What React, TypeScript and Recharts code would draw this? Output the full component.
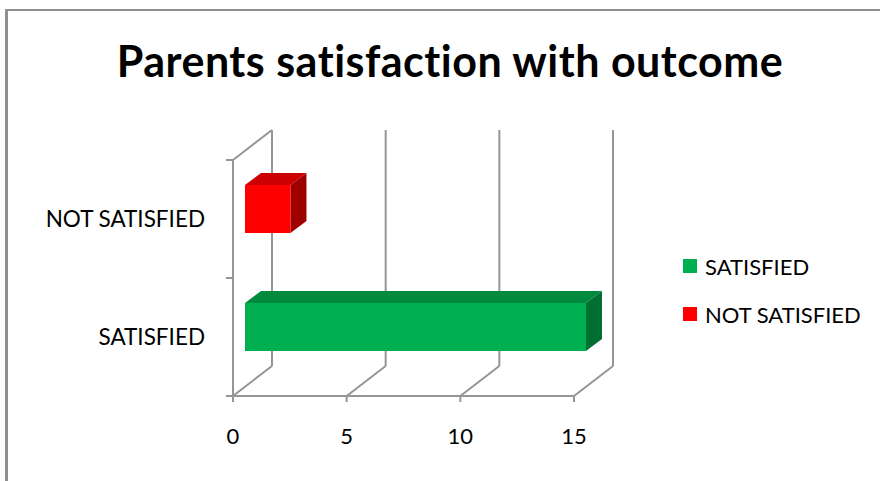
import { Bar, BarChart, CartesianGrid, Cell, XAxis, YAxis } from "recharts";

const categories = ["SATISFIED", "NOT SATISFIED"];
const parentCounts = [15, 2];
const valueTicks = [0, 5, 10, 15];

// front / top / side shades for each category
const frontColors = ["#00B050", "#FF0000"];
const topColors = ["#008A3E", "#CC0000"];
const sideColors = ["#007032", "#9E0000"];

const data = categories.map((name, i) => ({ name, count: parentCounts[i] }));

const FONT = "Lato, 'Open Sans', sans-serif";
const WALL = "#959595";
const FRAME = "#8f8f8f";
// depth of the floor / back wall
const DEPTH_X = 39;
const DEPTH_Y = 30;
// bars sit a little behind the front plane
const BAR_SHIFT_X = 12;
const BAR_SHIFT_Y = 10;
// thickness of the bars themselves
const BAR_DX = 16;
const BAR_DY = 12;

function Bar3D(props: any) {
  const { x, y, width, height, index } = props;
  if (width == null || height == null) return null;
  const fx = x + BAR_SHIFT_X;
  const fy = y - BAR_SHIFT_Y;
  const top = `${fx},${fy} ${fx + BAR_DX},${fy - BAR_DY} ${fx + width + BAR_DX},${fy - BAR_DY} ${fx + width},${fy}`;
  const side = `${fx + width},${fy} ${fx + width + BAR_DX},${fy - BAR_DY} ${fx + width + BAR_DX},${fy + height - BAR_DY} ${fx + width},${fy + height}`;
  return (
    <g>
      <polygon points={top} fill={topColors[index]} />
      <polygon points={side} fill={sideColors[index]} />
      <rect x={fx} y={fy} width={width} height={height} fill={frontColors[index]} />
    </g>
  );
}

// back wall line + floor diagonal for every value tick; the first one also closes the side wall
function wallLine(props: any) {
  const { x1, y1, y2, index } = props;
  const mid = (y1 + y2) / 2;
  return (
    <g key={`wall-${index}`} stroke={WALL} strokeWidth={2} fill="none">
      <line x1={x1 + DEPTH_X} y1={y1 - DEPTH_Y} x2={x1 + DEPTH_X} y2={y2 - DEPTH_Y} />
      <line x1={x1} y1={y2} x2={x1 + DEPTH_X} y2={y2 - DEPTH_Y} />
      {index === 0 && (
        <>
          <line x1={x1} y1={y1} x2={x1 + DEPTH_X} y2={y1 - DEPTH_Y} />
          {[y1, mid, y2].map((ty) => (
            <line key={ty} x1={x1 - 7} y1={ty} x2={x1} y2={ty} />
          ))}
        </>
      )}
    </g>
  );
}

export default function App() {
  return (
    <div style={{ position: "relative", width: 880, height: 481, overflow: "hidden", background: "#fff" }}>
      <style>{"html, body { margin: 0; overflow: hidden; }"}</style>
      {/* chart frame: only its top and left edges fall inside the view */}
      <div style={{ position: "absolute", left: 5, top: 9, width: 875, height: 2, background: FRAME }} />
      <div style={{ position: "absolute", left: 5, top: 9, width: 3, height: 472, background: FRAME }} />
      <div
        style={{
          position: "absolute",
          left: 20,
          width: 860,
          top: 36,
          textAlign: "center",
          whiteSpace: "nowrap",
          fontFamily: FONT,
          fontWeight: 700,
          fontSize: 43,
          letterSpacing: 0.5,
          lineHeight: "50px",
          color: "#000",
        }}
      >
        Parents satisfaction with outcome
      </div>
      <div style={{ position: "absolute", left: 0, top: 0 }}>
        <BarChart
          width={880}
          height={481}
          data={data}
          layout="vertical"
          margin={{ top: 160, right: 306, bottom: 45, left: 33 }}
        >
          <CartesianGrid horizontal={false} vertical={wallLine} />
          <XAxis
            type="number"
            domain={[0, 15]}
            ticks={valueTicks}
            height={40}
            axisLine={{ stroke: WALL, strokeWidth: 2 }}
            tickLine={{ stroke: WALL, strokeWidth: 2 }}
            tickSize={6}
            tickMargin={26}
            tick={{ fill: "#000", fontSize: 22, fontFamily: FONT }}
          />
          <YAxis
            type="category"
            dataKey="name"
            reversed
            width={200}
            axisLine={{ stroke: WALL, strokeWidth: 2 }}
            tickLine={false}
            tickSize={0}
            tickMargin={28}
            tick={{ fill: "#000", fontSize: 22.5, fontFamily: FONT }}
          />
          <Bar dataKey="count" barSize={48} shape={Bar3D} isAnimationActive={false}>
            {data.map((d, i) => (
              <Cell key={d.name} fill={frontColors[i]} />
            ))}
          </Bar>
        </BarChart>
      </div>
      <div style={{ position: "absolute", left: 683, top: 242, fontFamily: FONT, fontSize: 22, color: "#000" }}>
        {categories.map((name, i) => (
          <div key={name} style={{ display: "flex", alignItems: "center", height: 48 }}>
            <span style={{ width: 14, height: 14, background: frontColors[i], marginRight: 8 }} />
            {name}
          </div>
        ))}
      </div>
    </div>
  );
}
